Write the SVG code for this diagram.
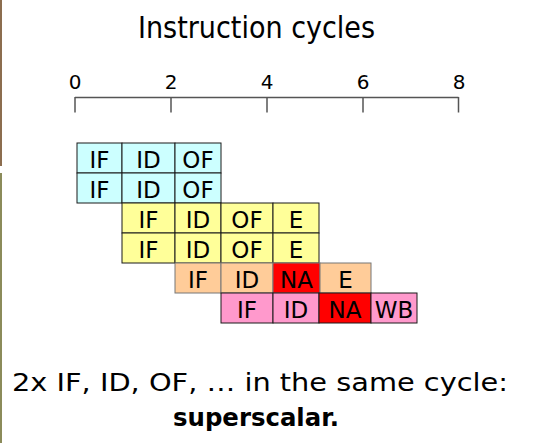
<svg xmlns="http://www.w3.org/2000/svg" width="536" height="443" viewBox="0 0 536 443">
<style>
.c{stroke:#1a1a1a;stroke-width:1}
.cy{fill:#ccffff}.ye{fill:#ffff99}.pe{fill:#ffcc99}.pk{fill:#ff99cc}.rd{fill:#ff0000}
.t{font-family:"DejaVu Sans",sans-serif;font-size:23px;text-anchor:middle;fill:#000}
.ax{font-family:"DejaVu Sans",sans-serif;font-size:20px;text-anchor:middle;fill:#000}
.axl{stroke:#555;stroke-width:1.5;fill:none}
</style>
<rect width="536" height="443" fill="#fff"/>
<rect x="0" y="0" width="2" height="166" fill="#8c6d4f"/>
<rect x="0" y="173" width="2" height="270" fill="#8b8b5a"/>
<text x="256.5" y="38" font-family="DejaVu Sans, sans-serif" font-size="30" text-anchor="middle" textLength="237" lengthAdjust="spacingAndGlyphs">Instruction cycles</text>
<g id="axis">
<path class="axl" d="M75 97.5H458.5M75 97V112.5M171 97V112.5M267 97V112.5M363 97V112.5M458.5 97V112.5"/>
<text class="ax" x="75" y="89">0</text>
<text class="ax" x="171" y="89">2</text>
<text class="ax" x="267" y="89">4</text>
<text class="ax" x="363" y="89">6</text>
<text class="ax" x="459" y="89">8</text>
</g>
<g id="connectors"></g>
<g id="i1">
<rect class="c cy" x="77" y="143" width="45" height="30"/><text class="t" x="99.5" y="168">IF</text>
<rect class="c cy" x="122" y="143" width="53" height="30"/><text class="t" x="148.5" y="168">ID</text>
<rect class="c cy" x="175" y="143" width="46" height="30"/><text class="t" x="198" y="168">OF</text>
</g>
<g id="i2">
<rect class="c cy" x="77" y="173" width="45" height="30"/><text class="t" x="99.5" y="198">IF</text>
<rect class="c cy" x="122" y="173" width="53" height="30"/><text class="t" x="148.5" y="198">ID</text>
<rect class="c cy" x="175" y="173" width="46" height="30"/><text class="t" x="198" y="198">OF</text>
</g>
<g id="i3">
<rect class="c ye" x="122" y="203" width="53" height="30"/><text class="t" x="148.5" y="228">IF</text>
<rect class="c ye" x="175" y="203" width="46" height="30"/><text class="t" x="198" y="228">ID</text>
<rect class="c ye" x="221" y="203" width="52" height="30"/><text class="t" x="247" y="228">OF</text>
<rect class="c ye" x="273" y="203" width="46" height="30"/><text class="t" x="296" y="228">E</text>
</g>
<g id="i4">
<rect class="c ye" x="122" y="233" width="53" height="30"/><text class="t" x="148.5" y="258">IF</text>
<rect class="c ye" x="175" y="233" width="46" height="30"/><text class="t" x="198" y="258">ID</text>
<rect class="c ye" x="221" y="233" width="52" height="30"/><text class="t" x="247" y="258">OF</text>
<rect class="c ye" x="273" y="233" width="46" height="30"/><text class="t" x="296" y="258">E</text>
</g>
<g id="i5">
<rect class="c pe" x="175" y="263" width="46" height="30" style="stroke:#777"/><text class="t" x="198" y="288">IF</text>
<rect class="c pe" x="221" y="263" width="52" height="30" style="stroke:#777"/><text class="t" x="247" y="288">ID</text>
<rect class="c rd" x="273" y="263" width="47" height="30" style="stroke:#777"/><text class="t" x="296.5" y="288">NA</text>
<rect class="c pe" x="320" y="263" width="51" height="30" style="stroke:#777"/><text class="t" x="345.5" y="288">E</text>
</g>
<g id="i6">
<rect class="c pk" x="221" y="293" width="52" height="30"/><text class="t" x="247" y="318">IF</text>
<rect class="c pk" x="273" y="293" width="46" height="30"/><text class="t" x="296" y="318">ID</text>
<rect class="c rd" x="319" y="293" width="52" height="30"/><text class="t" x="345" y="318">NA</text>
<rect class="c pk" x="371" y="293" width="46" height="30"/><text class="t" x="394" y="318">WB</text>
</g>
<text x="260" y="391" font-family="DejaVu Sans, sans-serif" font-size="25" text-anchor="middle" textLength="496" lengthAdjust="spacingAndGlyphs">2x IF, ID, OF, … in the same cycle:</text>
<text x="256" y="426" font-family="DejaVu Sans, sans-serif" font-size="25" font-weight="bold" text-anchor="middle" textLength="166" lengthAdjust="spacingAndGlyphs">superscalar.</text>
</svg>
